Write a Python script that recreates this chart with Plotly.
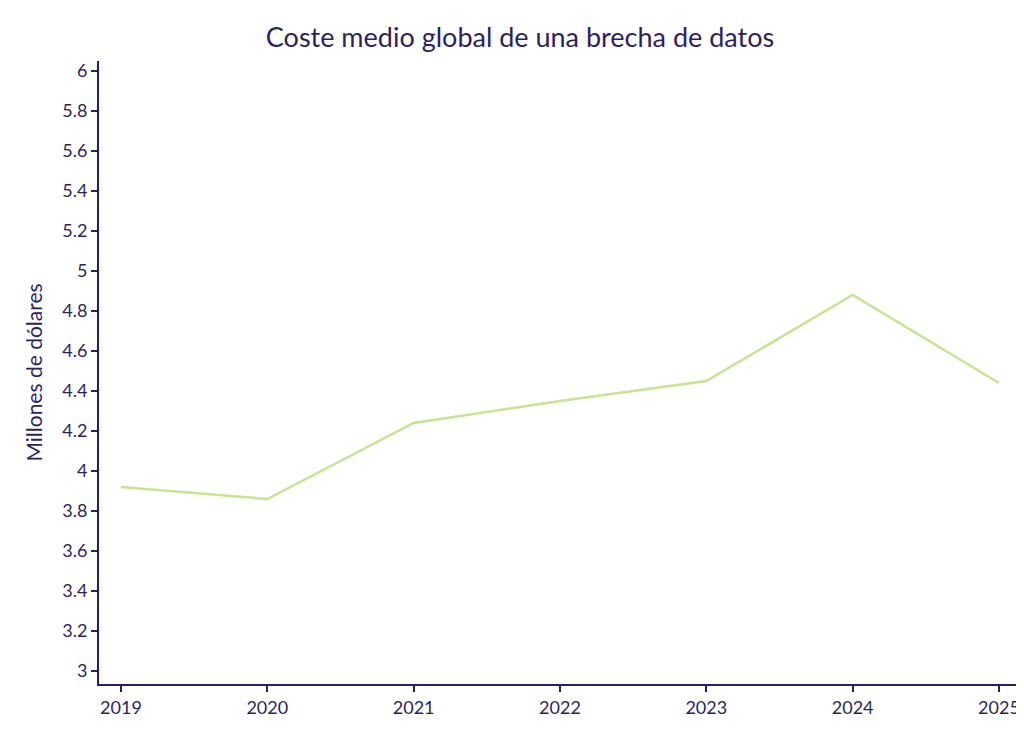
import plotly.graph_objects as go

# datos del gráfico
years = [2019, 2020, 2021, 2022, 2023, 2024, 2025]
coste = [3.92, 3.86, 4.24, 4.35, 4.45, 4.88, 4.44]

ink = "#2e1f63"

fig = go.Figure()
fig.add_trace(go.Scatter(x=years, y=coste, mode="lines",
                         line=dict(color="#c8e391", width=2.5), showlegend=False))

fig.update_layout(
    width=1024, height=731,
    paper_bgcolor="white", plot_bgcolor="white",
    margin=dict(l=91, r=14, t=53, b=55),
    font=dict(family="Lato, sans-serif", color=ink, size=18),
    title=dict(text="Coste medio global de una brecha de datos", x=0.5, xanchor="center",
               y=0.96, yanchor="middle", font=dict(size=27, color=ink)),
)
fig.update_xaxes(range=[2018.85, 2025.13], tickvals=years, showgrid=False, zeroline=False,
                 showline=True, linecolor=ink, linewidth=2,
                 ticks="outside", tickcolor=ink, ticklen=6, tickwidth=2)
fig.update_yaxes(range=[2.935, 6.05], dtick=0.2, tick0=3, showgrid=False, zeroline=False,
                 showline=True, linecolor=ink, linewidth=2,
                 ticks="outside", tickcolor=ink, ticklen=6, tickwidth=2,
                 title=dict(text="Millones de dólares", font=dict(size=21), standoff=14))

fig.write_html("out.html")
